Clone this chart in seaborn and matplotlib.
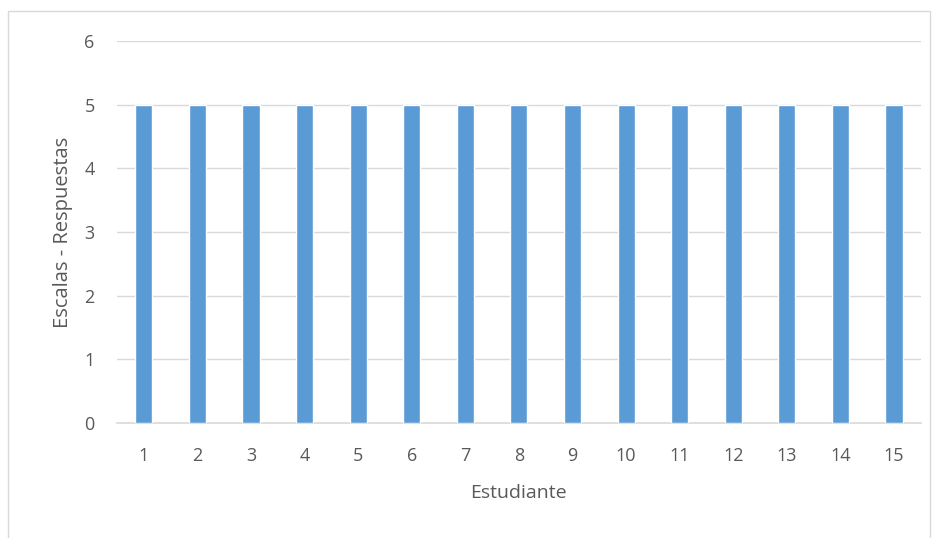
import matplotlib
matplotlib.use("Agg")
import matplotlib.pyplot as plt
import seaborn as sns
import pandas as pd
from matplotlib.patches import Rectangle

estudiantes = [str(i) for i in range(1, 16)]
respuestas = [5, 5, 5, 5, 5, 5, 5, 5, 5, 5, 5, 5, 5, 5, 5]

df = pd.DataFrame({"Estudiante": estudiantes, "Respuestas": respuestas})

sns.set_style("white")
plt.rcParams['font.family'] = ['Open Sans', 'DejaVu Sans']

fig = plt.figure(figsize=(9.38, 5.38), dpi=100)
ax = fig.add_axes([0.1247, 0.2138, 0.857, 0.71])

sns.barplot(data=df, x="Estudiante", y="Respuestas", color="#5B9BD5",
            saturation=1, width=0.32, ax=ax, zorder=3)

ax.set_ylim(0, 6)
ax.set_yticks(range(0, 7))
ax.set_xlim(-0.5, 14.5)
ax.grid(axis="y", color="#D9D9D9", linewidth=1, zorder=0)
for s in ["top", "right", "left"]:
    ax.spines[s].set_visible(False)
ax.spines["bottom"].set_color("#D9D9D9")
ax.spines["bottom"].set_linewidth(1.2)
ax.tick_params(axis="both", length=0, labelsize=13, colors="#595959")
ax.tick_params(axis="x", pad=17)
ax.tick_params(axis="y", pad=16)
ax.set_xlabel("Estudiante", fontsize=14, color="#595959", labelpad=14)
ax.set_ylabel("Escalas - Respuestas", fontsize=14.5, color="#595959", labelpad=8)

fig.patches.append(Rectangle((8 / 938, -0.01), (930 - 8) / 938, 1 - 11 / 538 + 0.01,
                             transform=fig.transFigure, fill=False,
                             edgecolor="#D9D9D9", linewidth=1))

fig.savefig("out.png", dpi=100)
